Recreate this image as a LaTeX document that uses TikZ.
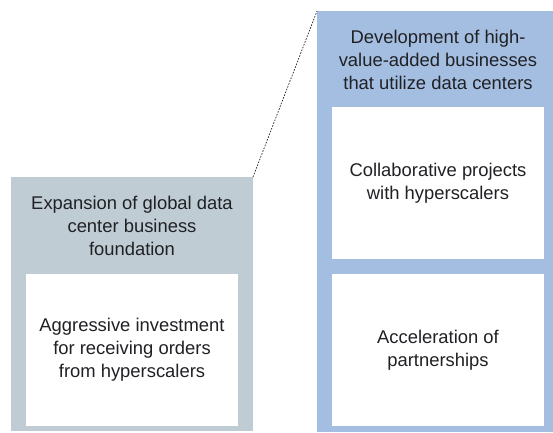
\documentclass[tikz,border=0pt]{standalone}
\usepackage{fontspec}
\setmainfont{Liberation Sans}
\usetikzlibrary{positioning}
\definecolor{ink}{HTML}{202124}
\definecolor{steel}{HTML}{BFCCD4}
\definecolor{sky}{HTML}{A4BEE2}
\definecolor{leader}{HTML}{222222}

\begin{document}
\begin{tikzpicture}[x=1pt,y=-1pt,
    panel/.style={anchor=north west,inner sep=0pt,outer sep=0pt},
    card/.style={panel,fill=white,minimum width=212pt,minimum height=152pt},
    txt/.style={font=\fontsize{18.4}{23}\selectfont,text=ink,align=center}]
  \useasboundingbox[fill=white] (0,0) rectangle (553,432);
  % two phase panels
  \node[panel,fill=steel,minimum width=242pt,minimum height=254pt] (expand) at (11,177) {};
  \node[panel,fill=sky,minimum width=236pt,minimum height=421pt] (develop) at (317,11) {};
  \draw[leader,line width=0.7pt,dash pattern=on 1.6pt off 1.4pt] (expand.north east) -- (develop.north west);
  % headings
  \node[txt] (expandhead) at (132,226) {Expansion of global data\\center business\\foundation};
  \node[txt] (develophead) at (438,60) {Development of high-\\value-added businesses\\that utilize data centers};
  % white cards
  \node[card,txt] (invest) at (26,274) {Aggressive investment\\for receiving orders\\from hyperscalers};
  \node[card,txt] (collab) at (332,107) {Collaborative projects\\with hyperscalers};
  \node[card,txt] (partner) at (332,274) {Acceleration of\\partnerships};
\end{tikzpicture}
\end{document}
